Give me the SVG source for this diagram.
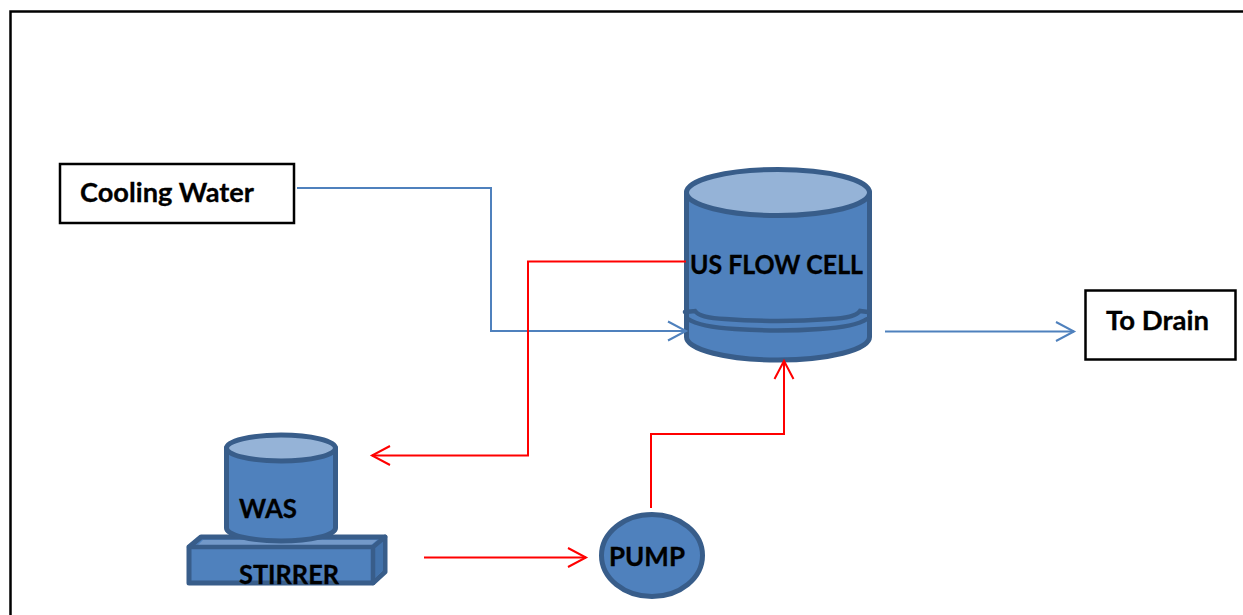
<svg xmlns="http://www.w3.org/2000/svg" width="1243" height="615" viewBox="0 0 1243 615">
<style>
.shape{fill:#4f81bd;stroke:#385d8a;stroke-width:5;stroke-linejoin:round}
.lid{fill:#95b3d7;stroke:#385d8a;stroke-width:5}
.line{fill:none;stroke:#385d8a;stroke-width:4.5;stroke-linecap:round}
.box{fill:#fff;stroke:#000;stroke-width:2.500}
.label{font-family:Lato,"Liberation Sans",sans-serif;font-weight:700;font-size:26px;fill:#000;stroke:#000;stroke-width:.3}
.blue{fill:none;stroke:#4f81bd;stroke-width:2;marker-end:url(#ab)}
.red{fill:none;stroke:#f00;stroke-width:2;marker-end:url(#ar)}
</style>
<defs>
<marker id="ab" markerUnits="userSpaceOnUse" markerWidth="24" markerHeight="26" refX="20" refY="12" orient="auto"><path d="M2 2.500L20 12L2 21.500" fill="none" stroke="#4f81bd" stroke-width="2"/></marker>
<marker id="ar" markerUnits="userSpaceOnUse" markerWidth="24" markerHeight="26" refX="20" refY="12" orient="auto"><path d="M2 2.500L20 12L2 21.500" fill="none" stroke="#f00" stroke-width="2"/></marker>
</defs>
<rect width="1243" height="615" fill="#fff"/>
<path id="frame" d="M10.500 615V11.500H1243" fill="none" stroke="#000" stroke-width="2.500"/>
<g id="cooling-water"><rect class="box" x="60" y="164" width="234" height="59"/><text class="label" x="80" y="202" textLength="174" lengthAdjust="spacingAndGlyphs">Cooling Water</text></g>
<g id="to-drain"><rect class="box" x="1085.500" y="290.500" width="150" height="69"/><text class="label" x="1106" y="330" textLength="103" lengthAdjust="spacingAndGlyphs">To Drain</text></g>
<g id="stirrer">
<path class="shape" stroke-width="4" d="M189 547L201 537H385V572L373 583H189Z"/>
<path d="M197 546L203 540H377L370 546Z" fill="#7399c9"/>
<path d="M375 546L383 539V570L375 578Z" fill="#4272ab"/>
<path class="line" d="M189 547H373V583M373 547L385 537"/>
<text class="label" x="239" y="584" textLength="100" lengthAdjust="spacingAndGlyphs">STIRRER</text>
</g>
<g id="was">
<path class="shape" d="M226.500 448V528A54.500 13 0 0 0 335.500 528V448Z"/>
<ellipse class="lid" cx="281" cy="448" rx="54.500" ry="13"/>
<text class="label" x="239" y="518" textLength="58" lengthAdjust="spacingAndGlyphs">WAS</text>
</g>
<g id="pump"><ellipse class="shape" cx="652" cy="555.500" rx="50.500" ry="41"/><text class="label" x="609" y="566" textLength="76" lengthAdjust="spacingAndGlyphs">PUMP</text></g>
<g id="us-flow-cell">
<path class="shape" d="M686.500 192.500V337A91.500 23 0 0 0 869.500 337V192.500Z"/>
<ellipse class="lid" cx="778" cy="192.500" rx="91.500" ry="23"/>
<path class="line" d="M685 312L695 311Q700 318 725 319Q778 323 830 319Q855 318 860 311L868 312"/>
<path class="line" d="M688 319Q700 327 735 329Q778 332 820 329Q855 327 867 319"/>
<text class="label" x="690" y="274" textLength="173" lengthAdjust="spacingAndGlyphs">US FLOW CELL</text>
</g>
<g id="connectors">
<path class="blue" d="M297 188H491V331H686"/>
<path class="blue" d="M885 331.500H1074"/>
<path class="red" d="M686 261.500H528V455.500H372"/>
<path class="red" d="M651 508V434H784V361"/>
<path class="red" d="M424 557.500H586"/>
</g>
</svg>
